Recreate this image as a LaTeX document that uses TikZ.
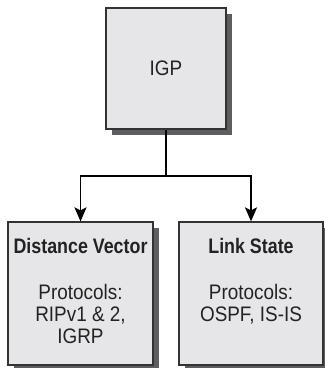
\documentclass[tikz,border=0pt]{standalone}
\usepackage{fontspec}
\setmainfont{Liberation Sans}[FakeStretch=0.9, BoldFeatures={FakeStretch=0.85}]
\usetikzlibrary{arrows.meta,shadows,positioning}

\definecolor{boxfill}{HTML}{E6E6E8}
\definecolor{boxline}{HTML}{333333}
\definecolor{shade}{HTML}{5E5E60}
\definecolor{ink}{HTML}{222222}

\tikzset{
  catbox/.style={draw=boxline, line width=1.2pt, fill=boxfill,
    drop shadow={shadow xshift=6pt, shadow yshift=-6pt, fill=shade, opacity=1}},
  boxtext/.style={align=center, text=ink, font=\fontsize{21}{22}\selectfont, inner sep=0pt},
  link/.style={line width=1.8pt, black},
  tip/.style={-{Stealth[length=14pt, width=12pt, inset=3pt]}}
}

\begin{document}
\begin{tikzpicture}[x=1pt, y=-1pt]

\useasboundingbox (0,0) rectangle (325,368);

% --- top of the tree ---
\node[catbox, minimum width=120pt, minimum height=121pt] (igp) at (166,68.5) {};
\node[boxtext] (igptext) at (igp.center) {IGP};

% --- the two families ---
\node[catbox, minimum width=145pt, minimum height=143pt] (dv) at (80.5,293.5) {};
\node[catbox, minimum width=144pt, minimum height=143pt] (ls) at (251,293.5) {};

\node[boxtext, below=17pt of dv.north, anchor=north] (dvtext)
  {\textbf{Distance Vector}\\[24pt] Protocols:\\ RIPv1 \& 2,\\ IGRP};
\node[boxtext, below=17pt of ls.north, anchor=north] (lstext)
  {\textbf{Link State}\\[24pt] Protocols:\\ OSPF, IS-IS};

% --- connectors ---
\coordinate (split) at (166,176);
\draw[link] (igp.south) -- (split);
\draw[link, tip] (split) -| (dv.north);
\draw[link, tip] (split) -| (ls.north);

\end{tikzpicture}
\end{document}
